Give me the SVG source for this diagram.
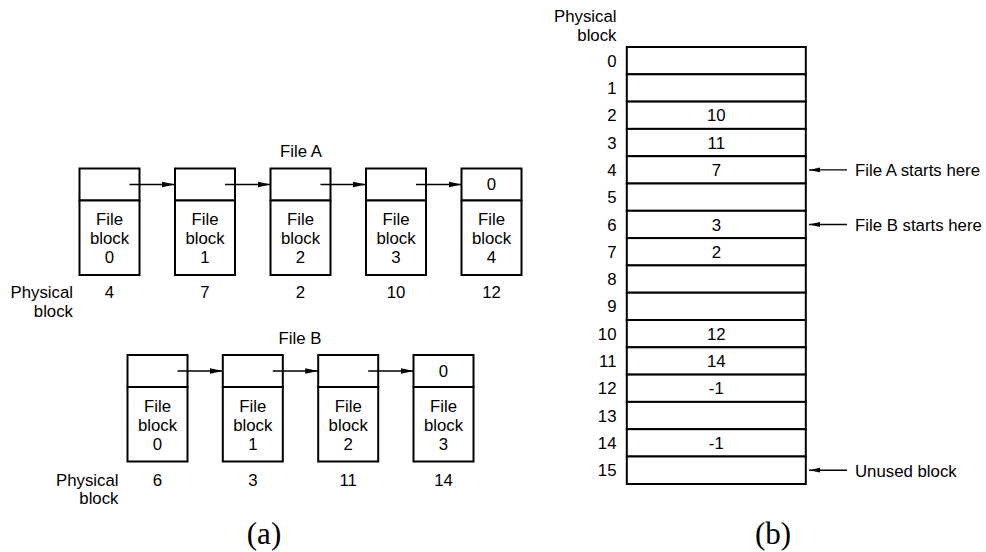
<svg xmlns="http://www.w3.org/2000/svg" width="986" height="552" viewBox="0 0 986 552">
<style>
text{font-family:"Liberation Sans",Arial,sans-serif;font-size:16.8px;fill:#000}
.c{text-anchor:middle}
.r{text-anchor:end}
.box{fill:#fff;stroke:#000;stroke-width:2}
.ln{stroke:#000;stroke-width:1.4;fill:none}
.cap{font-family:"Liberation Serif","Times New Roman",serif;font-size:31px}
</style>
<defs>
<marker id="ah" markerUnits="userSpaceOnUse" markerWidth="14" markerHeight="8" refX="13" refY="4" orient="auto">
<path d="M0,1.2 L13,4 L0,6.8 z" fill="#000"/>
</marker>
<marker id="ah2" markerUnits="userSpaceOnUse" markerWidth="12" markerHeight="8" refX="11" refY="4" orient="auto">
<path d="M0,1.6 L11,4 L0,6.4 z" fill="#000"/>
</marker>
</defs>

<g id="labels-a">
<text class="c" x="301" y="157.3">File A</text>
<text class="r" x="73" y="298.3">Physical</text>
<text class="r" x="73" y="316.5">block</text>
<text class="c" x="300" y="344">File B</text>
<text class="r" x="118.5" y="485.7">Physical</text>
<text class="r" x="118.5" y="504">block</text>
<text class="cap c" x="264" y="544">(a)</text>
<text class="cap c" x="773" y="544">(b)</text>
</g>

<g id="fileA-0"><rect class="box" x="79.5" y="168.5" width="60" height="32"/><rect class="box" x="79.5" y="200.5" width="60" height="74.5"/>
<text class="c" x="109.5" y="225">File</text><text class="c" x="109.5" y="244">block</text><text class="c" x="109.5" y="263.3">0</text><text class="c" x="109.5" y="298.3">4</text></g>
<g id="fileA-1"><rect class="box" x="175" y="168.5" width="60" height="32"/><rect class="box" x="175" y="200.5" width="60" height="74.5"/>
<text class="c" x="205" y="225">File</text><text class="c" x="205" y="244">block</text><text class="c" x="205" y="263.3">1</text><text class="c" x="205" y="298.3">7</text></g>
<g id="fileA-2"><rect class="box" x="270.5" y="168.5" width="60" height="32"/><rect class="box" x="270.5" y="200.5" width="60" height="74.5"/>
<text class="c" x="300.5" y="225">File</text><text class="c" x="300.5" y="244">block</text><text class="c" x="300.5" y="263.3">2</text><text class="c" x="300.5" y="298.3">2</text></g>
<g id="fileA-3"><rect class="box" x="366" y="168.5" width="60" height="32"/><rect class="box" x="366" y="200.5" width="60" height="74.5"/>
<text class="c" x="396" y="225">File</text><text class="c" x="396" y="244">block</text><text class="c" x="396" y="263.3">3</text><text class="c" x="396" y="298.3">10</text></g>
<g id="fileA-4"><rect class="box" x="461.5" y="168.5" width="60" height="32"/><rect class="box" x="461.5" y="200.5" width="60" height="74.5"/>
<text class="c" x="491.5" y="190.3">0</text>
<text class="c" x="491.5" y="225">File</text><text class="c" x="491.5" y="244">block</text><text class="c" x="491.5" y="263.3">4</text><text class="c" x="491.5" y="298.3">12</text></g>

<g id="fileB-0"><rect class="box" x="127.5" y="355" width="60" height="32"/><rect class="box" x="127.5" y="387" width="60" height="74.5"/>
<text class="c" x="157.5" y="411.7">File</text><text class="c" x="157.5" y="430.7">block</text><text class="c" x="157.5" y="450">0</text><text class="c" x="157.5" y="485.7">6</text></g>
<g id="fileB-1"><rect class="box" x="222.8" y="355" width="60" height="32"/><rect class="box" x="222.8" y="387" width="60" height="74.5"/>
<text class="c" x="252.8" y="411.7">File</text><text class="c" x="252.8" y="430.7">block</text><text class="c" x="252.8" y="450">1</text><text class="c" x="252.8" y="485.7">3</text></g>
<g id="fileB-2"><rect class="box" x="318.2" y="355" width="60" height="32"/><rect class="box" x="318.2" y="387" width="60" height="74.5"/>
<text class="c" x="348.2" y="411.7">File</text><text class="c" x="348.2" y="430.7">block</text><text class="c" x="348.2" y="450">2</text><text class="c" x="348.2" y="485.7">11</text></g>
<g id="fileB-3"><rect class="box" x="413.5" y="355" width="60" height="32"/><rect class="box" x="413.5" y="387" width="60" height="74.5"/>
<text class="c" x="443.5" y="376.8">0</text>
<text class="c" x="443.5" y="411.7">File</text><text class="c" x="443.5" y="430.7">block</text><text class="c" x="443.5" y="450">3</text><text class="c" x="443.5" y="485.7">14</text></g>

<g id="table">
<text class="r" x="616.5" y="21.7">Physical</text>
<text class="r" x="616.5" y="40.7">block</text>
<rect class="box" x="626.8" y="47" width="179" height="27.3"/>
<rect class="box" x="626.8" y="74.3" width="179" height="27.3"/>
<rect class="box" x="626.8" y="101.6" width="179" height="27.3"/>
<rect class="box" x="626.8" y="128.9" width="179" height="27.3"/>
<rect class="box" x="626.8" y="156.2" width="179" height="27.3"/>
<rect class="box" x="626.8" y="183.5" width="179" height="27.3"/>
<rect class="box" x="626.8" y="210.8" width="179" height="27.3"/>
<rect class="box" x="626.8" y="238.1" width="179" height="27.3"/>
<rect class="box" x="626.8" y="265.4" width="179" height="27.3"/>
<rect class="box" x="626.8" y="292.7" width="179" height="27.3"/>
<rect class="box" x="626.8" y="320" width="179" height="27.3"/>
<rect class="box" x="626.8" y="347.3" width="179" height="27.3"/>
<rect class="box" x="626.8" y="374.6" width="179" height="27.3"/>
<rect class="box" x="626.8" y="401.9" width="179" height="27.3"/>
<rect class="box" x="626.8" y="429.2" width="179" height="27.3"/>
<rect class="box" x="626.8" y="456.5" width="179" height="27.5"/>
<text class="r" x="616.5" y="66.7">0</text>
<text class="r" x="616.5" y="94">1</text>
<text class="r" x="616.5" y="121.3">2</text>
<text class="r" x="616.5" y="148.6">3</text>
<text class="r" x="616.5" y="175.9">4</text>
<text class="r" x="616.5" y="203.2">5</text>
<text class="r" x="616.5" y="230.5">6</text>
<text class="r" x="616.5" y="257.8">7</text>
<text class="r" x="616.5" y="285.1">8</text>
<text class="r" x="616.5" y="312.4">9</text>
<text class="r" x="616.5" y="339.7">10</text>
<text class="r" x="616.5" y="367">11</text>
<text class="r" x="616.5" y="394.3">12</text>
<text class="r" x="616.5" y="421.6">13</text>
<text class="r" x="616.5" y="448.9">14</text>
<text class="r" x="616.5" y="476.2">15</text>
<text class="c" x="716.3" y="121.3">10</text>
<text class="c" x="716.3" y="148.6">11</text>
<text class="c" x="716.3" y="175.9">7</text>
<text class="c" x="716.3" y="230.5">3</text>
<text class="c" x="716.3" y="257.8">2</text>
<text class="c" x="716.3" y="339.7">12</text>
<text class="c" x="716.3" y="367">14</text>
<text class="c" x="716.3" y="394.3">-1</text>
<text class="c" x="716.3" y="448.9">-1</text>
<text x="855" y="176.3">File A starts here</text>
<text x="855" y="230.8">File B starts here</text>
<text x="855" y="476.5">Unused block</text>
</g>

<g id="connectors">
<line class="ln" x1="129.5" y1="184.5" x2="175" y2="184.5" marker-end="url(#ah)"/>
<line class="ln" x1="225" y1="184.5" x2="270.5" y2="184.5" marker-end="url(#ah)"/>
<line class="ln" x1="320.5" y1="184.5" x2="366" y2="184.5" marker-end="url(#ah)"/>
<line class="ln" x1="416" y1="184.5" x2="461.5" y2="184.5" marker-end="url(#ah)"/>
<line class="ln" x1="177.5" y1="371" x2="222.8" y2="371" marker-end="url(#ah)"/>
<line class="ln" x1="272.8" y1="371" x2="318.2" y2="371" marker-end="url(#ah)"/>
<line class="ln" x1="368.2" y1="371" x2="413.5" y2="371" marker-end="url(#ah)"/>
<line class="ln" x1="847" y1="169.9" x2="809" y2="169.9" stroke-width="1.1" marker-end="url(#ah2)"/>
<line class="ln" x1="847" y1="224.5" x2="809" y2="224.5" stroke-width="1.1" marker-end="url(#ah2)"/>
<line class="ln" x1="847" y1="470.2" x2="809" y2="470.2" stroke-width="1.1" marker-end="url(#ah2)"/>
</g>
</svg>
